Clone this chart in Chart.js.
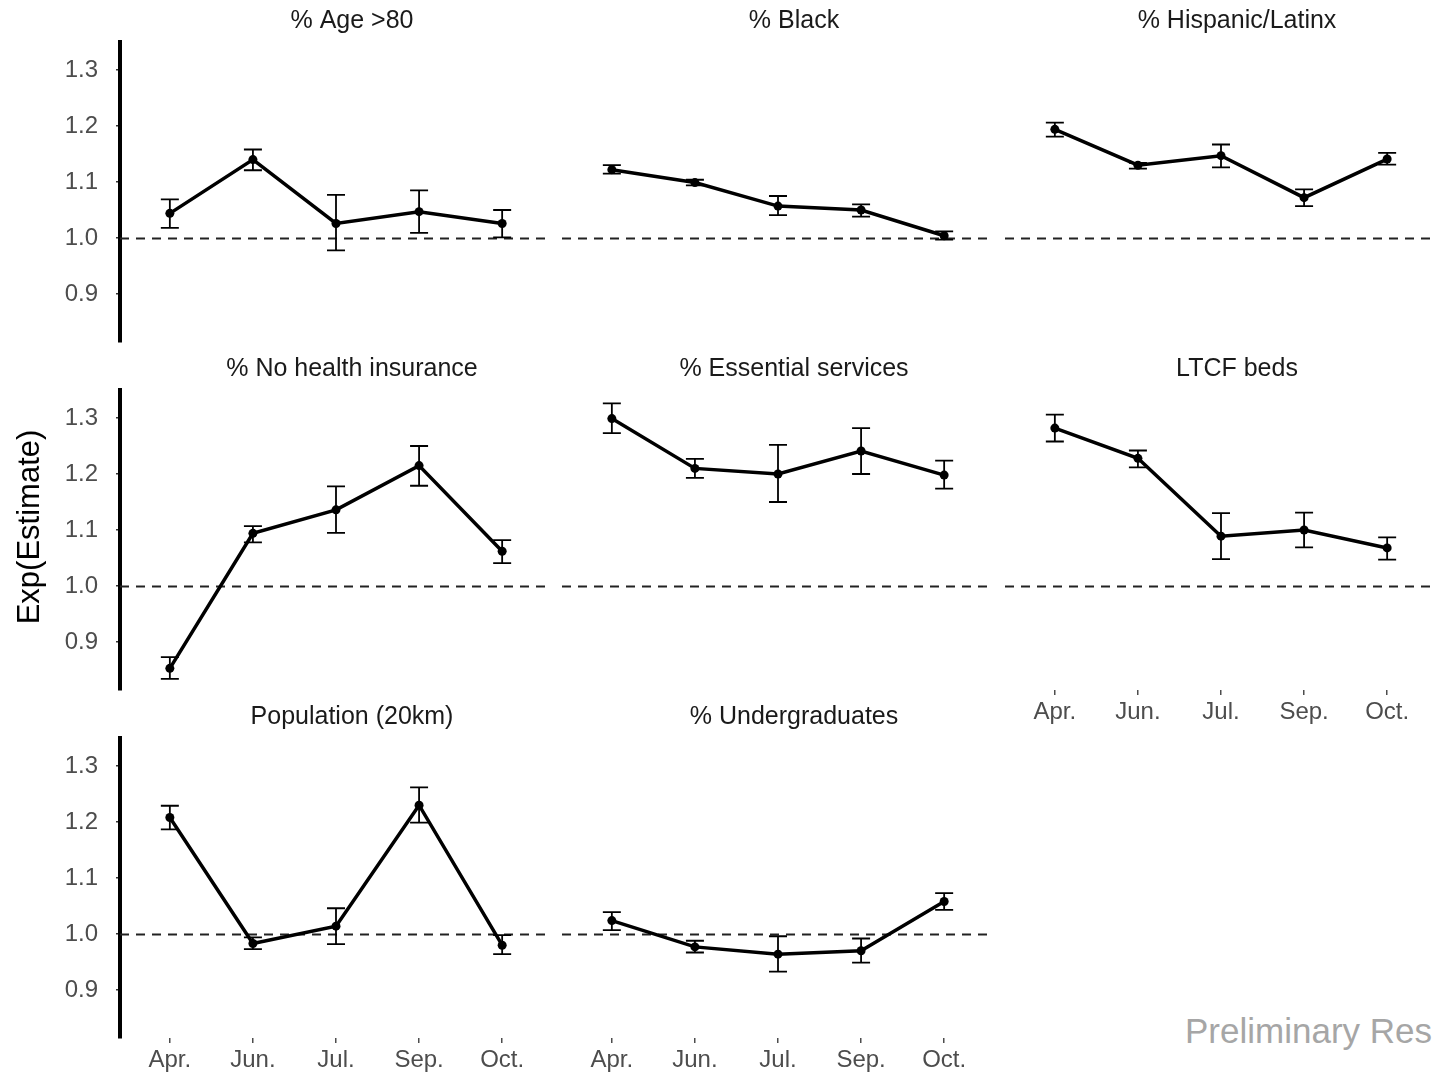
<!DOCTYPE html>
<html><head><meta charset="utf-8">
<script src="https://cdn.jsdelivr.net/npm/chart.js@4.4.1/dist/chart.umd.min.js"></script>
<style>
html,body{margin:0;padding:0;background:#fff;width:1432px;height:1077px;overflow:hidden;position:relative;font-family:'Liberation Sans',Arial,sans-serif;}
canvas{position:absolute;}
#wm{position:absolute;left:1185px;top:1013px;font-size:35px;line-height:35px;color:#a6a6a6;white-space:nowrap;}
</style></head><body>
<div id="wm">Preliminary Results</div>
<script>
// ---------- data ----------
const months = ['Apr.','Jun.','Jul.','Sep.','Oct.'];
const yTickValues = [0.9, 1.0, 1.1, 1.2, 1.3];
const refValue = 1.0;
const yTitle = 'Exp(Estimate)';
const panelTitles = ['% Age >80','% Black','% Hispanic/Latinx','% No health insurance','% Essential services','LTCF beds','Population (20km)','% Undergraduates'];

const ageEst = [1.044, 1.140, 1.026, 1.047, 1.026];
const ageLo  = [1.018, 1.121, 0.978, 1.009, 1.001];
const ageHi  = [1.069, 1.158, 1.077, 1.085, 1.050];

const blackEst = [1.122, 1.099, 1.057, 1.050, 1.004];
const blackLo  = [1.115, 1.094, 1.041, 1.038, 0.997];
const blackHi  = [1.130, 1.104, 1.075, 1.060, 1.012];

const hispEst = [1.194, 1.130, 1.147, 1.072, 1.141];
const hispLo  = [1.181, 1.124, 1.126, 1.057, 1.131];
const hispHi  = [1.206, 1.134, 1.167, 1.087, 1.152];

const noInsEst = [0.853, 1.094, 1.136, 1.215, 1.062];
const noInsLo  = [0.834, 1.078, 1.095, 1.179, 1.041];
const noInsHi  = [0.873, 1.107, 1.178, 1.250, 1.082];

const essEst = [1.299, 1.210, 1.200, 1.241, 1.198];
const essLo  = [1.273, 1.193, 1.150, 1.200, 1.174];
const essHi  = [1.326, 1.227, 1.252, 1.282, 1.224];

const ltcfEst = [1.282, 1.228, 1.089, 1.100, 1.068];
const ltcfLo  = [1.258, 1.212, 1.048, 1.069, 1.047];
const ltcfHi  = [1.306, 1.242, 1.130, 1.131, 1.087];

const popEst = [1.208, 0.983, 1.014, 1.230, 0.980];
const popLo  = [1.187, 0.973, 0.982, 1.199, 0.964];
const popHi  = [1.229, 0.994, 1.046, 1.262, 0.998];

const ugEst = [1.024, 0.977, 0.964, 0.970, 1.058];
const ugLo  = [1.007, 0.967, 0.933, 0.949, 1.043];
const ugHi  = [1.039, 0.988, 0.996, 0.992, 1.073];

const estimates = [ageEst, blackEst, hispEst, noInsEst, essEst, ltcfEst, popEst, ugEst];
const lowers    = [ageLo, blackLo, hispLo, noInsLo, essLo, ltcfLo, popLo, ugLo];
const uppers    = [ageHi, blackHi, hispHi, noInsHi, essHi, ltcfHi, popHi, ugHi];

// ---------- layout ----------
const colLeft = [120, 562, 1005];
const rowTop = [42, 390, 738];
const panelW = 432, panelH = 300, topPad = 42, yAxisW = 120, xAxisH = 45;
const FONT = "'Liberation Sans', Arial, sans-serif";

const errorBarPlugin = {
  id: 'errbars',
  beforeDatasetsDraw(chart, args, opts) {
    const {ctx, scales: {x, y}} = chart;
    ctx.save();
    ctx.strokeStyle = '#000';
    ctx.lineWidth = 1.8;
    opts.lo.forEach((lo, k) => {
      const px = x.getPixelForValue(k);
      const pl = y.getPixelForValue(lo);
      const ph = y.getPixelForValue(opts.hi[k]);
      ctx.beginPath();
      ctx.moveTo(px, pl); ctx.lineTo(px, ph);
      ctx.moveTo(px - 9, pl); ctx.lineTo(px + 9, pl);
      ctx.moveTo(px - 9, ph); ctx.lineTo(px + 9, ph);
      ctx.stroke();
    });
    ctx.restore();
  }
};

const refLinePlugin = {
  id: 'refline',
  beforeDatasetsDraw(chart) {
    const {ctx, chartArea: a, scales: {y}} = chart;
    const py = Math.round(y.getPixelForValue(refValue)) + 0.5;
    ctx.save();
    ctx.strokeStyle = '#222';
    ctx.lineWidth = 1.8;
    ctx.setLineDash([9, 7]);
    ctx.beginPath();
    ctx.moveTo(a.left, py); ctx.lineTo(a.right, py);
    ctx.stroke();
    ctx.restore();
  }
};

const stripPlugin = {
  id: 'strip',
  afterDraw(chart, args, opts) {
    const {ctx, chartArea: a} = chart;
    ctx.save();
    ctx.font = '25px ' + FONT;
    ctx.fillStyle = '#1a1a1a';
    ctx.textAlign = 'center';
    ctx.textBaseline = 'middle';
    ctx.fillText(opts.text, (a.left + a.right) / 2 + 16, a.top - 21);
    if (opts.yTitle) {
      ctx.translate(30, opts.yTitleY);
      ctx.rotate(-Math.PI / 2);
      ctx.font = '31px ' + FONT;
      ctx.fillStyle = '#000';
      ctx.fillText(opts.yTitle, 0, 0);
    }
    ctx.restore();
  }
};

estimates.forEach((est, i) => {
  const r = Math.floor(i / 3), c = i % 3;
  const hasX = (r === 2) || (r === 1 && c === 2);
  const hasY = c === 0;
  const cv = document.createElement('canvas');
  const w = panelW + yAxisW;
  const h = topPad + panelH + xAxisH;
  const left = colLeft[c] - yAxisW;
  const top = rowTop[r] - topPad;
  cv.width = w; cv.height = h;
  cv.style.left = left + 'px'; cv.style.top = top + 'px';
  cv.style.width = w + 'px'; cv.style.height = h + 'px';
  document.body.appendChild(cv);

  new Chart(cv, {
    type: 'line',
    data: {
      datasets: [{
        data: est.map((v, k) => ({x: k, y: v})),
        borderColor: '#000', borderWidth: 3.5,
        pointRadius: 4.5, pointBackgroundColor: '#000', pointBorderWidth: 0,
        tension: 0, fill: false, clip: false
      }]
    },
    options: {
      responsive: false, animation: false, devicePixelRatio: 1,
      layout: {autoPadding: false, padding: {top: topPad, left: 0, right: 0, bottom: 0}},
      plugins: {
        legend: {display: false}, tooltip: {enabled: false}, title: {display: false},
        errbars: {lo: lowers[i], hi: uppers[i]},
        strip: {text: panelTitles[i], yTitle: (i === 3 ? yTitle : null), yTitleY: 527 - top}
      },
      scales: {
        x: {
          type: 'linear', min: -0.6, max: 4.6, display: true,
          afterBuildTicks: s => { s.ticks = months.map((m, k) => ({value: k})); },
          afterFit: s => { s.height = xAxisH; },
          ticks: {display: hasX, callback: v => months[v], autoSkip: false, maxRotation: 0, minRotation: 0,
                  font: {family: FONT, size: 24}, color: '#4d4d4d', padding: 3},
          grid: {display: hasX, drawOnChartArea: false, drawTicks: true, tickLength: 5, color: '#4d4d4d', lineWidth: 1.5},
          border: {display: false}
        },
        y: {
          type: 'linear', min: 0.8143, max: 1.35, display: true,
          afterBuildTicks: s => { s.ticks = yTickValues.map(v => ({value: v})); },
          afterFit: s => { s.width = yAxisW; },
          ticks: {display: hasY, callback: v => v.toFixed(1), font: {family: FONT, size: 24}, color: '#4d4d4d', padding: 18},
          grid: {display: hasY, drawOnChartArea: false, drawTicks: true, tickLength: 4, color: '#333', lineWidth: 1.5},
          border: {display: hasY, color: '#000', width: 4}
        }
      }
    },
    plugins: [refLinePlugin, errorBarPlugin, stripPlugin]
  });
});
</script>
</body></html>
